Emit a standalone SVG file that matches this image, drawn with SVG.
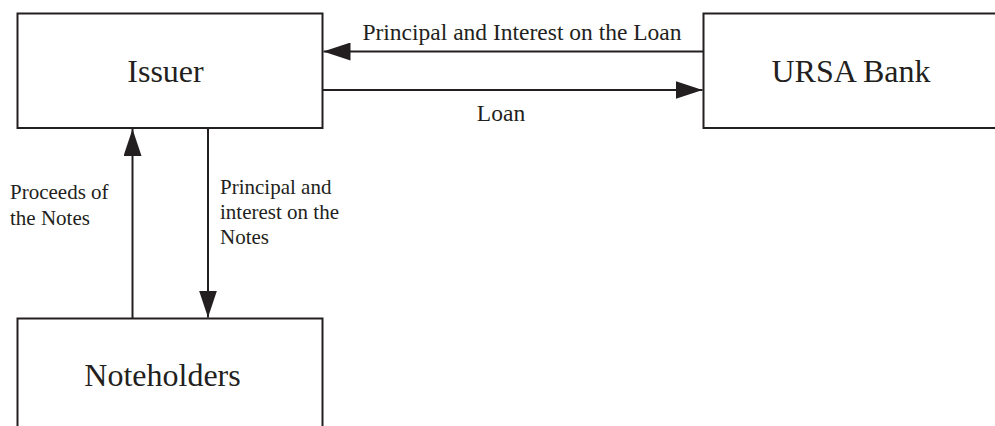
<svg xmlns="http://www.w3.org/2000/svg" width="995" height="426" viewBox="0 0 995 426">
<style>
.box{fill:#fff;stroke:#231f20;stroke-width:2}
.ln{fill:none;stroke:#231f20;stroke-width:2}
.big{font-family:"Liberation Serif",serif;font-size:32px;fill:#231f20;text-anchor:middle}
.sm{font-family:"Liberation Serif",serif;font-size:23.5px;fill:#231f20}
.lb{font-family:"Liberation Serif",serif;font-size:21px;fill:#231f20}
</style>
<defs>
<marker id="ah" viewBox="0 0 27 18" refX="27" refY="9" markerWidth="27" markerHeight="18" markerUnits="userSpaceOnUse" orient="auto">
<path d="M0,0 L27,9 L0,18 Z" fill="#231f20"/>
</marker>
</defs>
<rect width="995" height="426" fill="#fff"/>
<g id="issuer">
<rect class="box" x="17.5" y="13.5" width="305" height="114.5"/>
<text class="big" x="165.5" y="82">Issuer</text>
</g>
<g id="ursa">
<rect class="box" x="703.5" y="13.5" width="320" height="114.5"/>
<text class="big" x="851" y="82">URSA Bank</text>
</g>
<g id="noteholders">
<rect class="box" x="17.5" y="318.5" width="305" height="130"/>
<text class="big" x="162.5" y="386">Noteholders</text>
</g>
<g id="connectors">
<line class="ln" x1="703.5" y1="51.5" x2="323.5" y2="51.5" marker-end="url(#ah)"/>
<line class="ln" x1="322.5" y1="90" x2="702.5" y2="90" marker-end="url(#ah)"/>
<line class="ln" x1="132.5" y1="318.5" x2="132.5" y2="129" marker-end="url(#ah)"/>
<line class="ln" x1="208" y1="128" x2="208" y2="317.5" marker-end="url(#ah)"/>
<text class="sm" x="522" y="39.5" text-anchor="middle">Principal and Interest on the Loan</text>
<text class="sm" x="501" y="121" text-anchor="middle">Loan</text>
<text class="lb" x="10" y="199">Proceeds of</text>
<text class="lb" x="10" y="225">the Notes</text>
<text class="lb" x="220" y="194">Principal and</text>
<text class="lb" x="220" y="219">interest on the</text>
<text class="lb" x="220" y="244">Notes</text>
</g>
</svg>
